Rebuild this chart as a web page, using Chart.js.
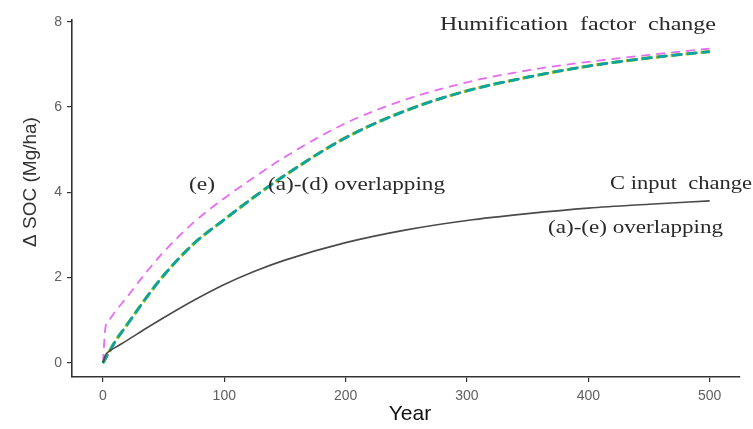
<!DOCTYPE html>
<html lang="en">
<head>
    <meta charset="UTF-8">
    <title>SOC change</title>
    <script src="https://cdn.jsdelivr.net/npm/chart.js"></script>
    <style>
        body { margin: 0; padding: 0; background: #fff; }
        .wrap { width: 753px; height: 429px; }
    </style>
</head>
<body>
    <div class="wrap"><canvas id="socChart" width="753" height="429"></canvas></div>

    <script>
        // values
        const years = [0, 2, 5, 10, 20, 35, 50, 75, 100, 125, 150, 200, 250, 300, 350, 400, 450, 500];
        const cInput = [0, 0.18, 0.27, 0.36, 0.53, 0.8, 1.06, 1.47, 1.84, 2.15, 2.41, 2.82, 3.12, 3.34, 3.5, 3.63, 3.72, 3.8];
        const humifAD = [0, 0.1, 0.25, 0.5, 0.9, 1.5, 2.05, 2.8, 3.36, 3.9, 4.4, 5.28, 5.92, 6.38, 6.7, 6.96, 7.15, 7.3];
        const humifE = [0, 0.82, 1.0, 1.2, 1.55, 2.1, 2.6, 3.3, 3.86, 4.36, 4.83, 5.62, 6.18, 6.58, 6.86, 7.06, 7.22, 7.37];
        const xTicks = [0, 100, 200, 300, 400, 500];
        const yTicks = [0, 2, 4, 6, 8];

        // annotation text, left x, middle y, width it spans in the figure
        const notes = [
            { text: 'Humification  factor  change', x: 440, y: 25, w: 276 },
            { text: '(e)', x: 189, y: 185, w: 26 },
            { text: '(a)-(d) overlapping', x: 268, y: 185, w: 177 },
            { text: 'C input  change', x: 610, y: 184, w: 142 },
            { text: '(a)-(e) overlapping', x: 548, y: 228, w: 175 }
        ];

        function pts(vals) {
            return years.map((yr, i) => ({ x: yr, y: vals[i] }));
        }

        function line(label, vals, color, width, dash, offset) {
            return {
                label: label,
                data: pts(vals),
                borderColor: color,
                borderWidth: width,
                borderDash: dash,
                borderDashOffset: offset,
                pointRadius: 0,
                fill: false,
                cubicInterpolationMode: 'monotone'
            };
        }

        const textPlugin = {
            id: 'textPlugin',
            afterDraw(chart) {
                const ctx = chart.ctx;
                ctx.save();
                ctx.fillStyle = '#2a2a2a';
                ctx.font = '18px "Liberation Serif", serif';
                ctx.textBaseline = 'middle';
                notes.forEach(n => {
                    const m = ctx.measureText(n.text).width;
                    ctx.save();
                    ctx.translate(n.x, n.y);
                    ctx.scale(n.w / m, 1);
                    ctx.fillText(n.text, 0, 0);
                    ctx.restore();
                });

                // axis titles
                ctx.fillStyle = '#111';
                ctx.textAlign = 'center';
                ctx.font = '21px "Liberation Sans", Arial, sans-serif';
                ctx.fillText('Year', 410, 414);
                ctx.save();
                ctx.translate(31, 182);
                ctx.rotate(-Math.PI / 2);
                ctx.fillStyle = '#333';
                ctx.font = '19px "Liberation Sans", Arial, sans-serif';
                ctx.fillText('\u0394 SOC (Mg/ha)', 0, 0);
                ctx.restore();
                ctx.restore();
            }
        };

        new Chart(document.getElementById('socChart'), {
            type: 'line',
            data: {
                // first dataset is painted last (on top)
                datasets: [
                    line('C input change', cInput, '#4a4a4a', 1.6, [], 0),
                    line('(d)', humifAD, '#119FAA', 2.2, [10, 5], 0),
                    line('(c)', humifAD, '#00B890', 2.8, [10, 5], 1),
                    line('(b)', humifAD, '#C8C400', 3.2, [10, 5], 2),
                    line('(a)', humifAD, '#F8766D', 2, [10, 5], 0),
                    line('(e)', humifE, '#E76BF3', 1.8, [9, 6], 0)
                ]
            },
            options: {
                responsive: false,
                animation: false,
                layout: { padding: { top: 20, right: 13, left: 0, bottom: 0 } },
                plugins: {
                    legend: { display: false },
                    tooltip: { enabled: false }
                },
                scales: {
                    x: {
                        type: 'linear',
                        min: -25.5,
                        max: 525,
                        afterBuildTicks: s => { s.ticks = xTicks.map(v => ({ value: v })); },
                        afterFit: s => { s.height = 52; },
                        grid: { drawOnChartArea: false, color: '#333', tickLength: 5, lineWidth: 1.2 },
                        border: { color: '#333', width: 1.6 },
                        ticks: { color: '#606060', font: { family: 'Liberation Sans', size: 14 }, padding: 6, maxRotation: 0 }
                    },
                    y: {
                        min: -0.33,
                        max: 8.04,
                        afterBuildTicks: s => { s.ticks = yTicks.map(v => ({ value: v })); },
                        afterFit: s => { s.width = 72; },
                        grid: { drawOnChartArea: false, color: '#333', tickLength: 5, lineWidth: 1.2 },
                        border: { color: '#333', width: 1.6 },
                        ticks: { color: '#606060', font: { family: 'Liberation Sans', size: 14 }, padding: 5 }
                    }
                }
            },
            plugins: [textPlugin]
        });
    </script>
</body>
</html>
